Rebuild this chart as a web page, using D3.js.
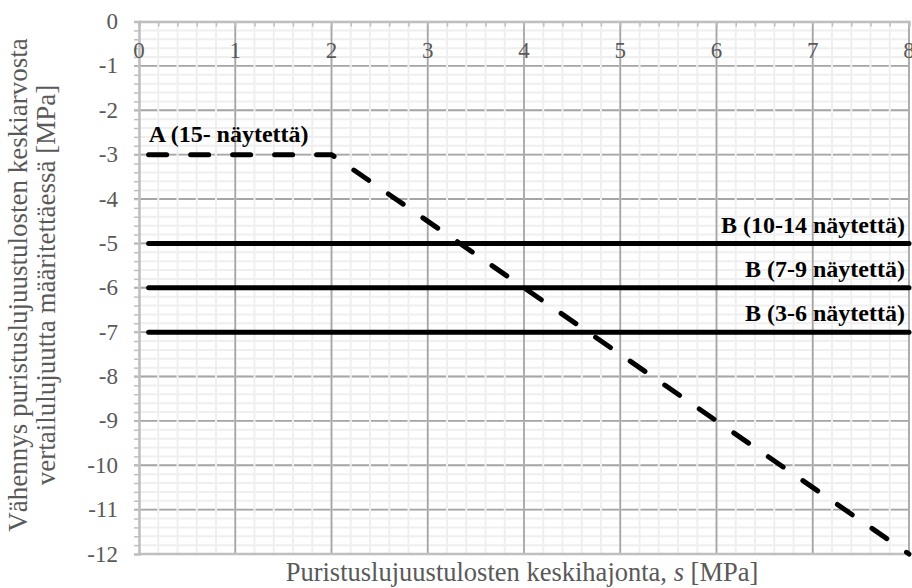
<!DOCTYPE html>
<html><head><meta charset="utf-8">
<script src="https://cdn.jsdelivr.net/npm/d3@7"></script>
<style>body{margin:0;background:#fff}svg{display:block}text{font-family:"Liberation Serif","Times New Roman",Times,serif}</style>
</head><body><svg id="c" width="912" height="588"></svg>
<script>
const xTicks = [0,1,2,3,4,5,6,7,8];
const yTicks = [0,-1,-2,-3,-4,-5,-6,-7,-8,-9,-10,-11,-12];
const seriesA_x = [0.1, 2, 8];
const seriesA_y = [-3, -3, -12];
const seriesB_levels = [-5, -6, -7];
const seriesB_x = [0.1, 8];
const seriesB_labels = ["B (10-14 näytettä)", "B (7-9 näytettä)", "B (3-6 näytettä)"];
const seriesA_label = "A (15- näytettä)";
const xTitle = ["Puristuslujuustulosten keskihajonta, ", "s", " [MPa]"];
const yTitle = ["Vähennys puristuslujuustulosten keskiarvosta", "vertailulujuutta määritettäessä [MPa]"];

const svg = d3.select("#c");
const L=139, R=909, T=21.5, B=554;
const x = d3.scaleLinear().domain([0,8]).range([L,R]);
const y = d3.scaleLinear().domain([0,-12]).range([T,B]);
const minorX = d3.range(0, 8.0001, 0.2);
const minorY = d3.range(0, -12.0001, -0.2);

svg.append("g").selectAll("line").data(minorY).join("line")
  .attr("x1",L).attr("x2",R).attr("y1",d=>y(d)).attr("y2",d=>y(d))
  .attr("stroke","#efefef").attr("stroke-width",2);
svg.append("g").selectAll("line").data(yTicks.slice(1,-1)).join("line")
  .attr("x1",L-5).attr("x2",R).attr("y1",d=>y(d)).attr("y2",d=>y(d))
  .attr("stroke","#a6a6a6").attr("stroke-width",1.8);
svg.append("g").selectAll("line").data(minorX).join("line")
  .attr("x1",d=>x(d)).attr("x2",d=>x(d)).attr("y1",T).attr("y2",B)
  .attr("stroke","#efefef").attr("stroke-width",2);
svg.append("g").selectAll("line").data(xTicks.slice(1)).join("line")
  .attr("x1",d=>x(d)).attr("x2",d=>x(d)).attr("y1",T).attr("y2",B)
  .attr("stroke","#a6a6a6").attr("stroke-width",1.8);
svg.append("line").attr("x1",L).attr("x2",R).attr("y1",y(-12)).attr("y2",y(-12))
  .attr("stroke","#bfbfbf").attr("stroke-width",2.5);

const yAxis = d3.axisLeft(y).tickValues(minorY).tickSize(5).tickFormat("");
const gy = svg.append("g").attr("transform",`translate(${L},0)`).call(yAxis);
gy.select(".domain").attr("stroke","#bfbfbf").attr("stroke-width",2.5);
gy.selectAll(".tick line").attr("stroke","#bfbfbf").attr("stroke-width",1.5);
const xAxis = d3.axisBottom(x).tickValues(minorX).tickSize(5).tickFormat("");
const gx = svg.append("g").attr("transform",`translate(0,${T})`).call(xAxis);
gx.select(".domain").attr("stroke","#bfbfbf").attr("stroke-width",2.5);
gx.selectAll(".tick line").attr("stroke","#bfbfbf").attr("stroke-width",1.5);

svg.append("g").selectAll("text").data(yTicks).join("text")
  .attr("x",L-21).attr("y",d=>y(d)).attr("dy","0.33em").attr("text-anchor","end")
  .attr("font-size",23).attr("fill","#595959").text(d=>d);
svg.append("g").selectAll("text").data(xTicks).join("text")
  .attr("x",d=>x(d)).attr("y",58).attr("text-anchor","middle")
  .attr("font-size",23).attr("fill","#595959").text(d=>d);

const line = d3.line().x(d=>x(d[0])).y(d=>y(d[1]));
seriesB_levels.forEach((lv,i)=>{
  svg.append("path").attr("d", line(seriesB_x.map(v=>[v,lv])))
    .attr("fill","none").attr("stroke","#000").attr("stroke-width",5).attr("stroke-linecap","round");
  svg.append("text").attr("x",R-4).attr("y",y(lv+0.24)).attr("text-anchor","end")
    .attr("font-weight","bold").attr("font-size",24).attr("fill","#000")
    .text(seriesB_labels[i]);
});
svg.append("path").attr("d", line(seriesA_x.map((v,i)=>[v,seriesA_y[i]])))
  .attr("fill","none").attr("stroke","#000").attr("stroke-width",5)
  .attr("stroke-linecap","round").attr("stroke-linejoin","round").attr("stroke-dasharray","18,24");
svg.append("text").attr("x",x(0.1)).attr("y",y(seriesA_y[0]+0.28))
  .attr("font-weight","bold").attr("font-size",24).attr("fill","#000")
  .text(seriesA_label);

const xt = svg.append("text").attr("x",522).attr("y",581).attr("text-anchor","middle")
  .attr("font-size",26.5).attr("fill","#595959");
xt.append("tspan").text(xTitle[0]);
xt.append("tspan").attr("font-style","italic").text(xTitle[1]);
xt.append("tspan").text(xTitle[2]);
yTitle.forEach((t,i)=>{
  svg.append("text").attr("transform",`translate(${27+i*28},285) rotate(-90)`)
    .attr("text-anchor","middle").attr("font-size",27).attr("fill","#595959").text(t);
});
</script></body></html>
